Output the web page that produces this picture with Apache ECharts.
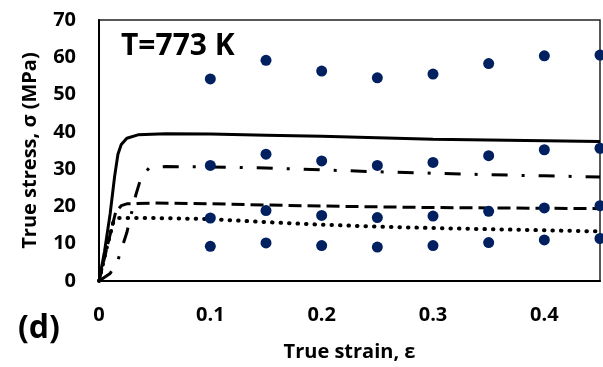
<!DOCTYPE html>
<html><head><meta charset="utf-8">
<script src="https://cdn.jsdelivr.net/npm/echarts@6/dist/echarts.min.js"></script>
<style>html,body{margin:0;padding:0;background:#fff}#c{width:603px;height:367px}</style>
</head><body><div id="c"></div>
<script>
// Experimental points (strain values and four stress series)
const expStrain = [0.10, 0.15, 0.20, 0.25, 0.30, 0.35, 0.40, 0.45];
const expA = [54.2, 59.2, 56.3, 54.5, 55.5, 58.3, 60.4, 60.6];
const expB = [31.0, 34.0, 32.2, 31.0, 31.8, 33.6, 35.2, 35.6];
const expC = [16.9, 18.9, 17.6, 17.0, 17.4, 18.7, 19.6, 20.2];
const expD = [9.3, 10.2, 9.5, 9.1, 9.5, 10.3, 11.0, 11.4];

// Model curves: [strain, stress]
const solidCurve = [[0,0],[0.005,8],[0.010,18],[0.014,28],[0.017,34],[0.020,36.6],[0.025,38.3],[0.035,39.2],[0.06,39.5],[0.10,39.4],[0.15,39.1],[0.20,38.8],[0.25,38.4],[0.30,38.0],[0.35,37.8],[0.40,37.6],[0.45,37.4]];
const dashDotCurve = [[0,0],[0.010,2],[0.017,5.6],[0.025,13],[0.033,23],[0.038,28],[0.045,30.3],[0.06,30.7],[0.10,30.6],[0.15,30.3],[0.20,29.8],[0.25,29.3],[0.30,28.9],[0.35,28.5],[0.40,28.2],[0.45,27.9]];
const dashedCurve = [[0,0],[0.008,10],[0.015,18.5],[0.020,20.2],[0.025,20.7],[0.05,20.9],[0.10,20.7],[0.15,20.4],[0.20,20.1],[0.25,19.9],[0.30,19.7],[0.35,19.6],[0.40,19.5],[0.45,19.4]];
const dottedCurve = [[0,0],[0.007,9],[0.013,16],[0.018,16.9],[0.05,16.9],[0.10,16.6],[0.15,15.8],[0.20,15.1],[0.25,14.6],[0.30,14.2],[0.35,13.9],[0.40,13.6],[0.45,13.3]];

const xMin = 0, xMax = 0.45, xStep = 0.1;
const yMin = 0, yMax = 70, yStep = 10;
const annot = 'T=773 K';
const panel = '(d)';

const FONT = '"Open Sans"';
const chart = echarts.init(document.getElementById('c'), null, {renderer:'canvas'});
const pts = arr => expStrain.map((x,i)=>[x, arr[i]]);
const dotSeries = arr => ({type:'scatter', data: pts(arr), symbol:'circle', symbolSize:11, itemStyle:{color:'#002060', opacity:1}, z:5, clip:false});
const lineSeries = (d, type, width, cap) => ({type:'line', data:d, showSymbol:false, symbol:'none', smooth:false, lineStyle:{color:'#000', width:width, type:type, cap:cap||'butt'}, z:3});

chart.setOption({
  animation:false,
  backgroundColor:'#fff',
  textStyle:{fontFamily:FONT},
  grid:{left:99, right:1, top:20, bottom:81, show:true, borderColor:'#222', borderWidth:1.5, containLabel:false},
  xAxis:{type:'value', min:xMin, max:xMax, interval:xStep,
    axisLine:{show:true, lineStyle:{color:'#000', width:2}}, axisTick:{show:false}, splitLine:{show:false},
    axisLabel:{fontFamily:FONT, fontWeight:'bold', fontSize:20, color:'#000', margin:24,
      formatter: v => (Math.abs(v-0.45)<1e-6 ? '' : (v===0?'0':v.toFixed(1)))},
    name:'True strain, ε', nameLocation:'middle', nameGap:61,
    nameTextStyle:{fontFamily:FONT, fontWeight:'bold', fontSize:20, color:'#000'}},
  yAxis:{type:'value', min:yMin, max:yMax, interval:yStep,
    axisLine:{show:true, lineStyle:{color:'#000', width:2}}, axisTick:{show:false}, splitLine:{show:false},
    axisLabel:{fontFamily:FONT, fontWeight:'bold', fontSize:20, color:'#000', margin:23},
    name:'True stress, σ (MPa)', nameLocation:'middle', nameGap:59,
    nameTextStyle:{fontFamily:FONT, fontWeight:'bold', fontSize:20, color:'#000'}},
  graphic:[
    {type:'text', left:121, top:31, style:{text:annot, font:'bold 30px '+FONT, fill:'#000'}},
    {type:'text', left:18, top:313, style:{text:panel, font:'bold 32px '+FONT, fill:'#000'}}
  ],
  series:[
    lineSeries(solidCurve, 'solid', 3),
    lineSeries(dashDotCurve, [16,14,3,14], 3),
    lineSeries(dashedCurve, [13,6], 3),
    lineSeries(dottedCurve, [0.5,8], 4, 'round'),
    dotSeries(expA), dotSeries(expB), dotSeries(expC), dotSeries(expD)
  ]
});
</script></body></html>
